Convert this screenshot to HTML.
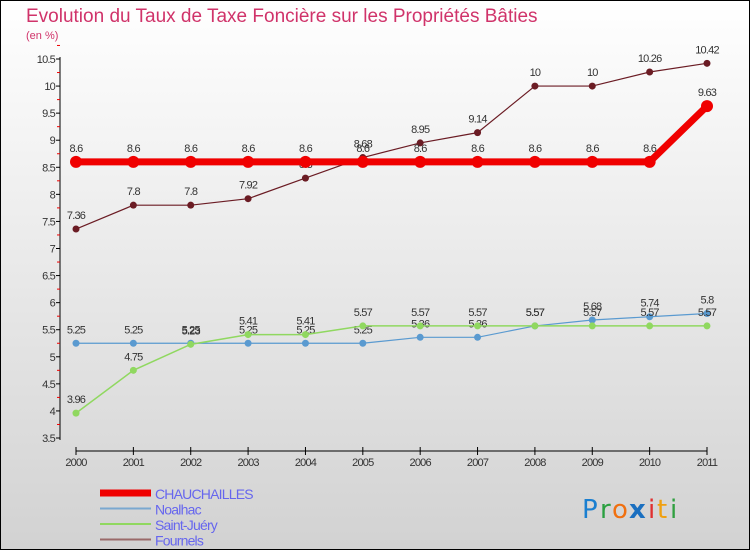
<!DOCTYPE html>
<html><head><meta charset="utf-8"><style>
body{margin:0;width:750px;height:550px;overflow:hidden;font-family:"Liberation Sans",sans-serif}
svg{display:block}
</style></head><body>
<svg id="c" width="750" height="550" xmlns="http://www.w3.org/2000/svg">
<defs><linearGradient id="bg" x1="0" y1="0" x2="0" y2="1"><stop offset="0" stop-color="#ffffff"/><stop offset="1" stop-color="#d2d2d2"/></linearGradient></defs>
<rect x="0.5" y="0.5" width="749" height="549" fill="url(#bg)" stroke="#000"/>
<text x="26" y="22" font-size="19" fill="#d0336a">Evolution du Taux de Taxe Foncière sur les Propriétés Bâties</text>
<text x="26" y="39" font-size="11" fill="#d0336a">(en %)</text>
<g id="axes"></g><g id="series"></g><g id="legend"></g>
<g font-size="26" font-family="'DejaVu Sans',sans-serif">
<text x="582" y="518" fill="#1a7fd0">P</text><text x="600" y="518" fill="#2aa040">r</text><text x="612" y="518" fill="#f07010">o</text><text x="629" y="518" fill="#1a6fc0" font-weight="bold">x</text><text x="648" y="518" fill="#e03030">i</text><text x="657" y="518" fill="#f0a010">t</text><text x="670" y="518" fill="#30a040">i</text></g>
</svg>
<script>
const years=["2000","2001","2002","2003","2004","2005","2006","2007","2008","2009","2010","2011"];
const yTicks=[3.5,4,4.5,5,5.5,6,6.5,7,7.5,8,8.5,9,9.5,10,10.5];
const chauchailles=[8.6,8.6,8.6,8.6,8.6,8.6,8.6,8.6,8.6,8.6,8.6,9.63];
const noalhac=[5.25,5.25,5.25,5.25,5.25,5.25,5.36,5.36,5.57,5.68,5.74,5.8];
const saintJuery=[3.96,4.75,5.23,5.41,5.41,5.57,5.57,5.57,5.57,5.57,5.57,5.57];
const fournels=[7.36,7.8,7.8,7.92,8.3,8.68,8.95,9.14,10,10,10.26,10.42];
const NS="http://www.w3.org/2000/svg";
const X=i=>76+i*(707-76)/(years.length-1);
const Y=v=>438-(v-3.5)*(438-59)/7;
function mk(p,t,a){const e=document.createElementNS(NS,t);for(const k in a)e.setAttribute(k,a[k]);p.appendChild(e);return e;}
const ax=document.getElementById('axes');
let l=mk(ax,'line',{x1:60,y1:57,x2:60,y2:440,stroke:'#000'});

yTicks.forEach(v=>{mk(ax,'line',{x1:56,y1:Y(v),x2:60,y2:Y(v),stroke:'#000'});
 mk(ax,'line',{x1:57,y1:Y(v+0.25),x2:60,y2:Y(v+0.25),stroke:'#e00'});
 const t=mk(ax,'text',{x:55,y:Y(v)+4,'font-size':11,'text-anchor':'end',fill:'#333','letter-spacing':'-0.8'});t.textContent=v;
 });
l=mk(ax,'line',{x1:76,y1:451,x2:707,y2:451,stroke:'#000'});

years.forEach((y,i)=>{mk(ax,'line',{x1:X(i),y1:447,x2:X(i),y2:455,stroke:'#000'});
 const t=mk(ax,'text',{x:X(i),y:466,'font-size':11,'text-anchor':'middle',fill:'#333','letter-spacing':'-0.8'});t.textContent=y;
 });
const sg=document.getElementById('series');
function series(name,data,color,w,r){
 const g=mk(sg,'g',{});
 
 mk(g,'polyline',{points:data.map((v,i)=>X(i)+','+Y(v)).join(' '),fill:'none',stroke:color,'stroke-width':w});
 data.forEach((v,i)=>{const c=mk(g,'circle',{cx:X(i),cy:Y(v),r:r,fill:color});
  
  const t=mk(g,'text',{x:X(i),y:Y(v)-10,'font-size':11,'text-anchor':'middle',fill:'#333','letter-spacing':'-0.8'});t.textContent=v;
  });
}
series('fournels',fournels,'#6b1c24',1.2,3.5);
series('noalhac',noalhac,'#5a9ad0',1.2,3.5);
series('saint-juery',saintJuery,'#90d860',1.5,3.5);
series('chauchailles',chauchailles,'#f00000',7,6);
const lg=document.getElementById('legend');
const leg=[['CHAUCHAILLES','#f00000',7],['Noalhac','#7aa8d0',2],['Saint-Juéry','#90d860',2],['Fournels','#9a6a6a',2]];
leg.forEach((e,i)=>{const y=493+i*15.5;const g=mk(lg,'g',{});
 
 mk(g,'line',{x1:100,y1:y,x2:151,y2:y,stroke:e[1],'stroke-width':e[2]});
 const t=mk(g,'text',{x:155,y:y+6,'font-size':14,fill:'#6666ee','letter-spacing':'-0.8'});t.textContent=e[0];});
</script>
</body></html>
